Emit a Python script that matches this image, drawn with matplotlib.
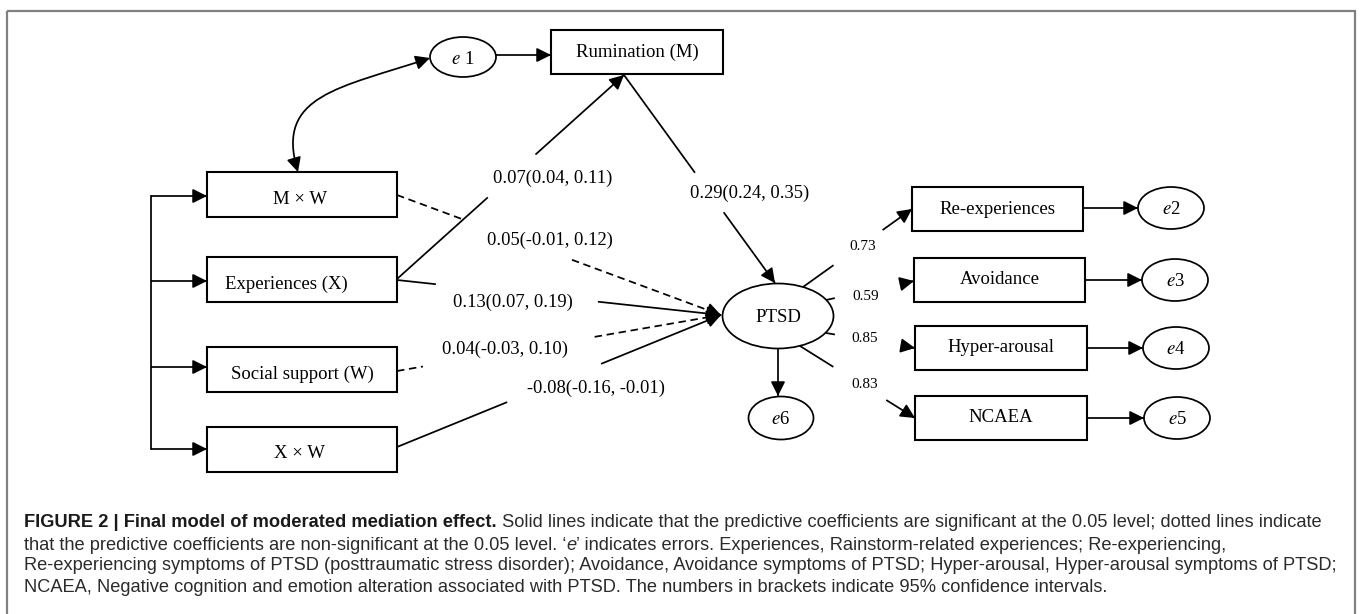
import numpy as np
import matplotlib
matplotlib.use('Agg')
import matplotlib.pyplot as plt
from matplotlib.patches import Rectangle, Ellipse, FancyArrowPatch
from matplotlib.path import Path
from matplotlib import font_manager

# ---- model content ----
predictors = ['M × W', 'Experiences (X)', 'Social support (W)', 'X × W']
mediator = 'Rumination (M)'
outcome = 'PTSD'
indicators = ['Re-experiences', 'Avoidance', 'Hyper-arousal', 'NCAEA']
loadings = [0.73, 0.59, 0.85, 0.83]
indicator_errors = ['2', '3', '4', '5']

# structural paths: X->M, M->Y, MW->Y, X->Y, W->Y, XW->Y
path_est = [0.07, 0.29, 0.05, 0.13, 0.04, -0.08]
path_lo = [0.04, 0.24, -0.01, 0.07, -0.03, -0.16]
path_hi = [0.11, 0.35, 0.12, 0.19, 0.10, -0.01]
significant = [True, True, False, True, False, True]

caption_lines = [
    [('FIGURE 2 | Final model of moderated mediation effect.', 'bold'),
     (' Solid lines indicate that the predictive coefficients are significant at the 0.05 level; dotted lines indicate', 'normal')],
    [('that the predictive coefficients are non-significant at the 0.05 level. \u2018', 'normal'),
     ('e', 'italic'),
     ('\u2019 indicates errors. Experiences, Rainstorm-related experiences; Re-experiencing,', 'normal')],
    [('Re-experiencing symptoms of PTSD (posttraumatic stress disorder); Avoidance, Avoidance symptoms of PTSD; '
      'Hyper-arousal, Hyper-arousal symptoms of PTSD;', 'normal')],
    [('NCAEA, Negative cognition and emotion alteration associated with PTSD. '
      'The numbers in brackets indicate 95% confidence intervals.', 'normal')],
]

# ---- layout (pixel space, y down) ----
pred_x, pred_w, pred_h = 207, 190, 45
pred_tops = [172, 257, 347, 427]
pred_text = [(300, 199), (286, 284), (302, 374), (300, 454)]
bracket_x = 151
bracket_y = [196, 281, 367, 449]

path_geom = [((397, 279), (624, 75), (0.40, 0.61)),
             ((624, 75), (775, 283), (0.47, 0.66)),
             ((397, 195), (721, 315), (0.21, 0.54)),
             ((397, 280), (721, 315), (0.12, 0.62)),
             ((397, 371), (721, 315), (0.08, 0.61)),
             ((397, 447), (721, 315), (0.34, 0.63))]
path_label_pos = [(553, 178), (750, 193), (550, 240), (513, 302), (505, 349), (596, 388)]

ind_left = [912, 914, 915, 915]
ind_right = [1083, 1085, 1087, 1087]
ind_tops = [187, 258, 326, 396]
ind_h = 44
err_centers = [(1171, 208), (1175, 280), (1176, 348), (1177, 418)]
load_geom = [((803, 287), (912, 209), (0.28, 0.73)),
             ((826, 300), (914, 281), (0.10, 0.84)),
             ((826, 333), (915, 348), (0.10, 0.84)),
             ((800, 346), (915, 418), (0.29, 0.75))]
load_label_pos = [(863, 247), (866, 296), (865, 338), (865, 384)]

LW = 1.25
BOX_LW = 1.5
HEAD = '-|>,head_length=0.86,head_width=0.43'
DASH = (0, (4.3, 2.7))
SERIF = ['Liberation Serif', 'DejaVu Serif']

fig = plt.figure(figsize=(13.6, 6.14), dpi=100)
ax = fig.add_axes([0, 0, 1, 1])
ax.set_xlim(0, 1360)
ax.set_ylim(614, 0)
ax.axis('off')


def head(tip_from, tip_to):
    ax.add_patch(FancyArrowPatch(tip_from, tip_to, arrowstyle=HEAD, mutation_scale=10,
                                 shrinkA=0, shrinkB=0, color='black', lw=LW, zorder=3))


def edge(p0, p1, gap=None, dashed=False):
    p0, p1 = np.array(p0, float), np.array(p1, float)
    ls = DASH if dashed else '-'
    if gap is None:
        segs = [(p0, p1)]
    else:
        segs = [(p0, p0 + (p1 - p0) * gap[0]), (p0 + (p1 - p0) * gap[1], p1)]
    for a, b in segs:
        ax.plot([a[0], b[0]], [a[1], b[1]], color='black', lw=LW, ls=ls,
                solid_capstyle='butt', zorder=2)
    u = (p1 - p0) / np.linalg.norm(p1 - p0)
    head(p1 - 13 * u, p1)


def box(x, y, w, h):
    ax.add_patch(Rectangle((x, y), w, h, fill=False, ec='black', lw=BOX_LW, zorder=2))


def oval(c, w, h):
    ax.add_patch(Ellipse(c, w, h, fill=False, ec='black', lw=LW, zorder=2))


# outer frame
ax.add_patch(Rectangle((7, 11), 1348, 620, fill=False, ec='#808080', lw=1.6, zorder=1))

# predictors with common bracket
ax.plot([bracket_x, bracket_x], [bracket_y[0], bracket_y[-1]], color='black', lw=LW)
for name, top, (tx, ty), by in zip(predictors, pred_tops, pred_text, bracket_y):
    box(pred_x, top, pred_w, pred_h)
    ax.text(tx, ty, name, ha='center', va='center', fontsize=13.5, family=SERIF)
    edge((bracket_x, by), (pred_x, by))

# mediator + its error
box(551, 30, 172, 44)
ax.text(637, 52, mediator, ha='center', va='center', fontsize=13.5, family=SERIF)
oval((463, 57), 66, 40)
ax.text(463, 59, '$e$ 1', ha='center', va='center', fontsize=13.5, family=SERIF,
        math_fontfamily='stix')
edge((496, 55), (551, 55))

# covariance e1 <-> M x W
curve = Path([(298, 172), (275, 95), (340, 88), (430, 58)],
             [Path.MOVETO, Path.CURVE4, Path.CURVE4, Path.CURVE4])
ax.add_patch(FancyArrowPatch(path=curve, arrowstyle='<|-|>,head_length=0.86,head_width=0.43',
                             mutation_scale=10, color='black', lw=LW, zorder=3))

# outcome
oval((778, 316), 111, 65)
ax.text(778, 317, outcome, ha='center', va='center', fontsize=13.5, family=SERIF)
oval((781, 418), 65, 43)
ax.text(781, 419, '$e$6', ha='center', va='center', fontsize=13.5, family=SERIF,
        math_fontfamily='stix')
edge((778, 349), (778, 396))

# structural paths
for (p0, p1, gap), pos, est, lo, hi, sig in zip(path_geom, path_label_pos, path_est,
                                                 path_lo, path_hi, significant):
    edge(p0, p1, gap, dashed=not sig)
    ax.text(pos[0], pos[1], f'{est:.2f}({lo:.2f}, {hi:.2f})', ha='center', va='center',
            fontsize=13.3, family=SERIF)

# measurement part
for i, name in enumerate(indicators):
    top = ind_tops[i]
    cy = top + ind_h / 2
    box(ind_left[i], top, ind_right[i] - ind_left[i], ind_h)
    ax.text((ind_left[i] + ind_right[i]) / 2, cy, name, ha='center', va='center',
            fontsize=13.5, family=SERIF)
    p0, p1, gap = load_geom[i]
    edge(p0, p1, gap)
    ax.text(*load_label_pos[i], f'{loadings[i]:.2f}', ha='center', va='center',
            fontsize=11, family=SERIF)
    ec = err_centers[i]
    oval(ec, 66, 42)
    ax.text(ec[0], ec[1] + 1, f'$e${indicator_errors[i]}', ha='center', va='center',
            fontsize=13.5, family=SERIF, math_fontfamily='stix')
    edge((ind_right[i], ec[1]), (ec[0] - 33, ec[1]))

# caption
names = {f.name for f in font_manager.fontManager.ttflist}
cap_family = 'Liberation Sans Narrow' if 'Liberation Sans Narrow' in names else 'Liberation Sans'
cap_x = 24
cap_base = [527, 549.5, 570.5, 591.5]
cap_texts = []
line_ends = []
for base, pieces in zip(cap_base, caption_lines):
    prev = None
    for txt, style in pieces:
        kw = dict(fontsize=11.5, family=cap_family, color='#2b2b2b',
                  fontweight='bold' if style == 'bold' else 'normal',
                  fontstyle='italic' if style == 'italic' else 'normal')
        if style == 'bold':
            kw['color'] = '#1a1a1a'
        if prev is None:
            t = ax.text(cap_x, base, txt, ha='left', va='baseline', **kw)
        else:
            t = ax.annotate(txt, xy=(1, 0), xycoords=prev, ha='left', va='bottom', **kw)
        cap_texts.append(t)
        prev = t
    line_ends.append(prev)

# fit caption width to the measured extents of lines 1 and 3
fig.canvas.draw()
r = fig.canvas.get_renderer()
s1 = (1332 - cap_x) / (line_ends[0].get_window_extent(r).x1 - cap_x)
s3 = (1330 - cap_x) / (line_ends[2].get_window_extent(r).x1 - cap_x)
scale = (s1 + s3) / 2
for t in cap_texts:
    t.set_fontsize(t.get_fontsize() * scale)

fig.savefig('out.png', dpi=100)
